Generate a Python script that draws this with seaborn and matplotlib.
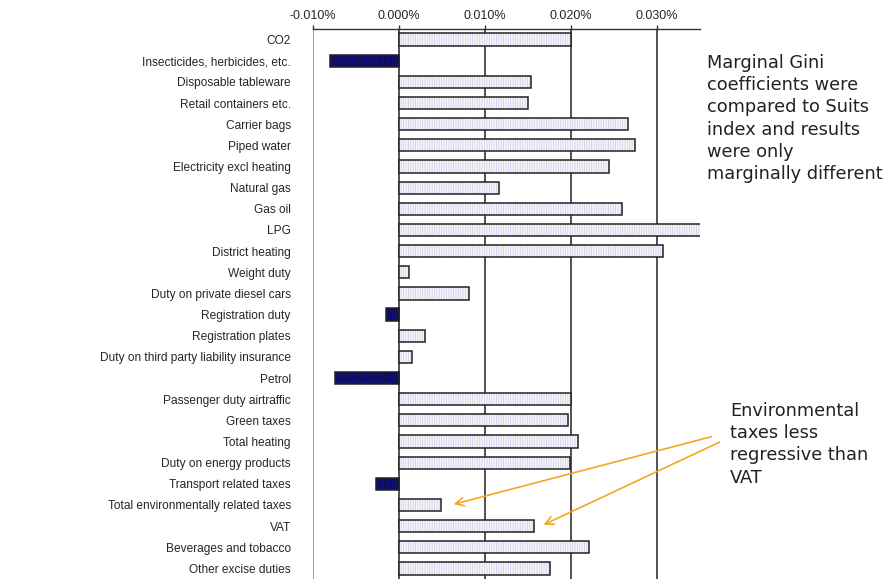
import matplotlib
matplotlib.use("Agg")
import matplotlib.pyplot as plt
import seaborn as sns
import pandas as pd
import numpy as np
from matplotlib.colors import to_rgba
from matplotlib.ticker import FuncFormatter

categories = ["CO2", "Insecticides, herbicides, etc.", "Disposable tableware",
              "Retail containers etc.", "Carrier bags", "Piped water",
              "Electricity excl heating", "Natural gas", "Gas oil", "LPG",
              "District heating", "Weight duty", "Duty on private diesel cars",
              "Registration duty", "Registration plates",
              "Duty on third party liability insurance", "Petrol",
              "Passenger duty airtraffic", "Green taxes", "Total heating",
              "Duty on energy products", "Transport related taxes",
              "Total environmentally related taxes", "VAT",
              "Beverages and tobacco", "Other excise duties"]
# values in percent
values = [0.0200, -0.0080, 0.0154, 0.0150, 0.0266, 0.0274, 0.0244, 0.0116,
          0.0259, 0.0360, 0.0307, 0.0012, 0.0081, -0.0015, 0.0030, 0.0015,
          -0.0075, 0.0200, 0.0197, 0.0208, 0.0199, -0.0027, 0.0049, 0.0157,
          0.0221, 0.0175]
xticks = [-0.01, 0.0, 0.01, 0.02, 0.03]

df = pd.DataFrame({"cat": categories, "val": values})
df["sign"] = np.where(df["val"] < 0, "neg", "pos")

sns.set_style("white")
plt.rcParams["font.family"] = ["Liberation Sans", "DejaVu Sans"]
plt.rcParams["hatch.linewidth"] = 0.6

fig = plt.figure(figsize=(8.95, 5.79), dpi=100)
ax = fig.add_axes([313/895, 0.0, (700-313)/895, 1 - 29/579])

sns.barplot(data=df, x="val", y="cat", hue="sign", dodge=False,
            palette={"pos": "#f6f6fc", "neg": "#000088"}, orient="h",
            width=0.58, edgecolor="#222222", linewidth=1.1, legend=False,
            ax=ax, zorder=3)
for p in ax.patches:
    p.set_hatch("|||||||")
    p._hatch_color = to_rgba("#0a0a50") if p.get_width() < 0 else to_rgba("#cfcfe6")

ax.set_xlim(-0.01, 0.035)
ax.set_ylim(len(categories) - 0.5, -0.5)
ax.set_xticks(xticks)
ax.xaxis.set_major_formatter(FuncFormatter(lambda v, _: f"{v:.3f}%"))
ax.xaxis.tick_top()
ax.tick_params(axis="x", length=3, width=1, color="#333333", labelsize=9,
               pad=2, top=True, bottom=False)
ax.tick_params(axis="y", length=0, labelsize=8.6, pad=16)
ax.set_xlabel("")
ax.set_ylabel("")
for v in xticks:
    ax.axvline(v, color="#333333" if v != -0.01 else "#888888", lw=1.2, zorder=1)
for s in ["right", "bottom", "left"]:
    ax.spines[s].set_visible(False)
ax.spines["top"].set_color("#333333")
ax.spines["top"].set_linewidth(1.0)

fig.text(707/895, 1 - 54/579,
         "Marginal Gini\ncoefficients were\ncompared to Suits\nindex and results\nwere only\nmarginally different",
         fontsize=12.8, family="DejaVu Sans", va="top", ha="left", linespacing=1.3,
         color="#222222")
fig.text(730/895, 1 - 402/579,
         "Environmental\ntaxes less\nregressive than\nVAT",
         fontsize=12.8, family="DejaVu Sans", va="top", ha="left", linespacing=1.3,
         color="#222222")

orange = "#f5a623"
fig.patches.append(matplotlib.patches.FancyArrowPatch(
    (714/895, 1 - 436/579), (451/895, 1 - 505/579), transform=fig.transFigure,
    arrowstyle="->,head_length=6,head_width=3", color=orange, lw=1.2))
fig.patches.append(matplotlib.patches.FancyArrowPatch(
    (722/895, 1 - 441/579), (541/895, 1 - 526/579), transform=fig.transFigure,
    arrowstyle="->,head_length=6,head_width=3", color=orange, lw=1.2))

fig.savefig("out.png", dpi=100)
